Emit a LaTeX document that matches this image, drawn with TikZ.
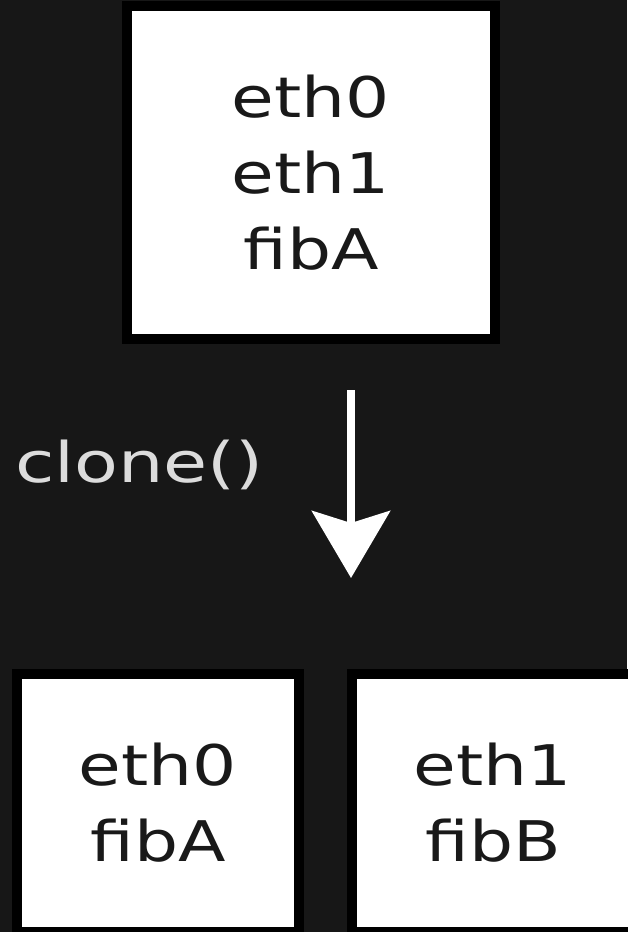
\documentclass[tikz,border=0pt]{standalone}
\usepackage{fontspec}
\newfontfamily\boxfont[FakeStretch=1.24]{DejaVu Sans}
\newfontfamily\opfont[FakeStretch=1.28]{DejaVu Sans}
\usetikzlibrary{arrows.meta, positioning}
\definecolor{board}{HTML}{171717}
\definecolor{chalk}{HTML}{DCDCDC}

\begin{document}
\begin{tikzpicture}[x=1pt, y=-1pt]
\tikzset{
>={Stealth[length=67pt, width=78pt, inset=12pt]},
  netbox/.style={
    rectangle,
    fill=white,
    draw=black, line width=10pt,
    text=black!90,
    align=center,
    font=\boxfont\fontsize{56}{76}\selectfont},
  line/.style={draw, white, line width=8pt, ->},
  oplabel/.style={
    text=chalk,
    inner sep=0pt,
    anchor=base west,
    font=\opfont\fontsize{56}{60}\selectfont},
}
\fill[board] (0,0) rectangle (627,932);
\useasboundingbox (0,0) rectangle (627,932);

\node[netbox, minimum width=368pt, minimum height=333pt] (parent) at (311,172.5) {eth0\\eth1\\fibA};
\node[netbox, minimum width=282pt, minimum height=258pt] (childA) at (158,803) {eth0\\fibA};
\node[netbox, minimum width=282pt, minimum height=258pt, right=43pt of childA] (childB) {eth1\\fibB};

\coordinate (split) at (351,390);
\coordinate (copies) at (351,578);
\draw[line] (split) -- (copies);
\node[oplabel] (clone) at (15,482) {clone()};

\end{tikzpicture}
\end{document}
